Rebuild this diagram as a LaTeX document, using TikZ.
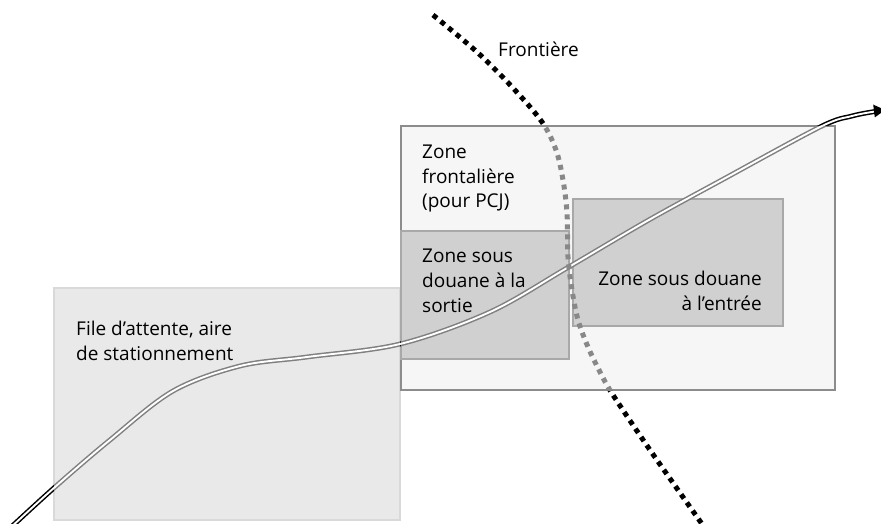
\documentclass[tikz,border=0pt]{standalone}
\usepackage{fontspec}
\setmainfont{Open Sans}
\usetikzlibrary{arrows.meta}
\definecolor{waitfill}{HTML}{E9E9E9}
\definecolor{waitedge}{HTML}{D9D9D9}
\definecolor{zonefill}{HTML}{F6F6F6}
\definecolor{zoneedge}{HTML}{8C8C8C}
\definecolor{bondfill}{HTML}{D0D0D0}
\definecolor{bondedge}{HTML}{A8A8A8}
\definecolor{roadgray}{HTML}{808080}
\definecolor{dotgray}{HTML}{888888}
\begin{document}
\begin{tikzpicture}[x=1pt,y=-1pt,
  area/.style={inner sep=0pt, outer sep=0pt, anchor=north west},
  waitbox/.style={area, fill=waitfill, draw=waitedge, line width=2pt},
  zonebox/.style={area, fill=zonefill, draw=zoneedge, line width=2.5pt},
  bondbox/.style={area, fill=bondfill, draw=bondedge, line width=2pt},
  caption/.style={inner sep=0pt, anchor=base west, font=\fontsize{19}{25}\selectfont},
  roadline/.style={line width=1.5pt, double=white, double distance=1.9pt},
  borderdots/.style={line width=5pt, dash pattern=on 5pt off 5pt}
]
\useasboundingbox (0,0) rectangle (881,524);

% areas
\node[waitbox, minimum width=346pt, minimum height=232pt] (wait) at (54,288) {};
\node[zonebox, minimum width=434pt, minimum height=264pt] (zone) at (401,126) {};
\node[bondbox, minimum width=168pt, minimum height=128pt] (exit) at (401,231) {};
\node[bondbox, minimum width=210pt, minimum height=127pt] (entry) at (573,199) {};

% captions
\node[caption] (waitlbl) at (76,335) {\begin{tabular}[t]{@{}l@{}}File d’attente, aire\\de stationnement\end{tabular}};
\node[caption] (zonelbl) at (422,158) {\begin{tabular}[t]{@{}l@{}}Zone\\frontalière\\(pour PCJ)\end{tabular}};
\node[caption] (exitlbl) at (422,262) {\begin{tabular}[t]{@{}l@{}}Zone sous\\douane à la\\sortie\end{tabular}};
\node[caption, anchor=base east] (entrylbl) at (762,285) {\begin{tabular}[t]{@{}r@{}}Zone sous douane\\à l’entrée\end{tabular}};
\node[caption] (borderlbl) at (498,57) {Frontière};

% outside region: page frame with the areas cut out (reverse orientation)
\def\outside{(-20,-20) -- (900,-20) -- (900,560) -- (-20,560) -- cycle
  (wait.north west) -- (wait.south west) -- (wait.south east) -- (wait.north east) -- cycle
  (zone.north west) -- (zone.south west) -- (zone.south east) -- (zone.north east) -- cycle}

% road
\def\roadpath{plot[smooth, tension=0.55] coordinates {(8,530) (55,487) (110,440) (173,391) (240,366) (307,357) (400,344) (490,312) (567,268) (647,221) (720,181) (820,127) (852,116) (875,111.5)}}
\begin{scope}
  \clip \outside;
  \draw[roadline, black] \roadpath;
\end{scope}
\begin{scope}
  \clip (wait.north west) rectangle (wait.south east)
    (zone.north west) rectangle (zone.south east);
  \draw[roadline, roadgray] \roadpath;
\end{scope}
\coordinate (roadend) at (875,111.3);
\fill[black] (885,110) -- (874.8,117.4) -- (873.2,104.6) -- cycle;

% border line
\def\borderpath{plot[smooth, tension=0.55] coordinates {(433,15) (477,52) (513,88) (542,122) (556,150) (563,180) (567,213) (568,257) (572,290) (578,320) (588,347) (600,372) (613,395) (650,450) (702,524)}}
\begin{scope}
  \clip (-20,-20) -- (900,-20) -- (900,560) -- (-20,560) -- cycle
    (zone.north west) -- (zone.south west) -- (zone.south east) -- (zone.north east) -- cycle;
  \draw[borderdots, black] \borderpath;
\end{scope}
\begin{scope}
  \clip (zone.north west) rectangle (zone.south east);
  \draw[borderdots, dotgray] \borderpath;
\end{scope}
\end{tikzpicture}
\end{document}
